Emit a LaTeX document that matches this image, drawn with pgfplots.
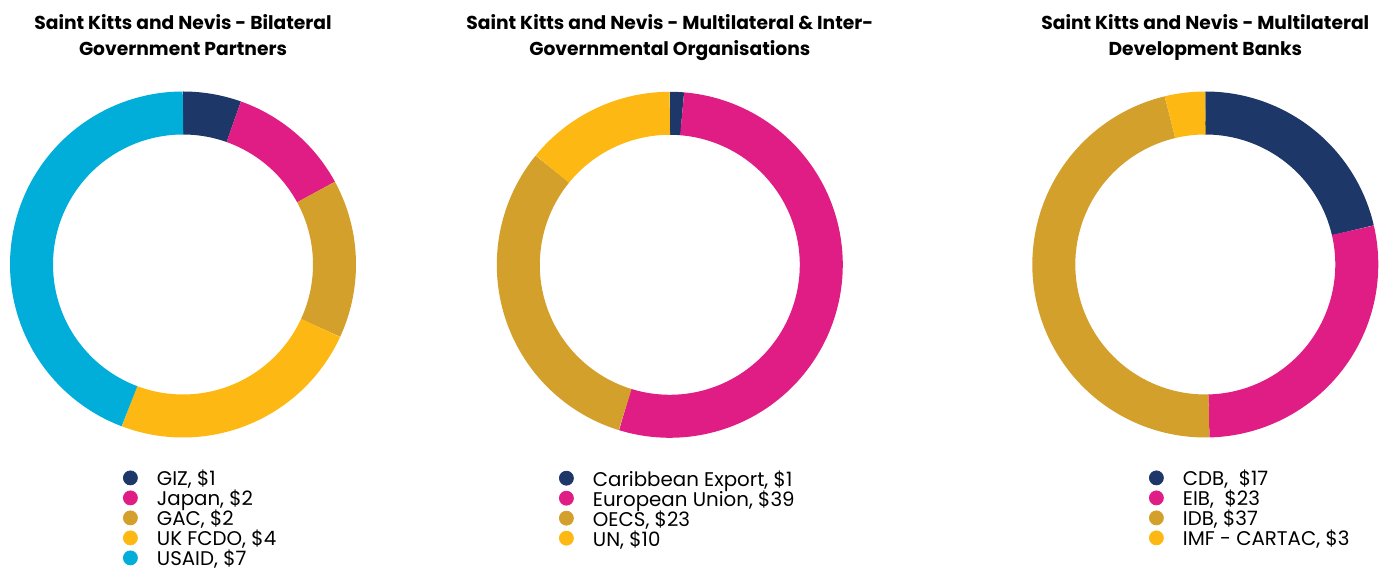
\documentclass[border=0pt]{standalone}
\usepackage{pgfplots}
\pgfplotsset{compat=1.18}
\usepackage{pgfplotstable}
\usepackage{fontspec}
\setmainfont{Poppins}
\definecolor{cNavy}{HTML}{1D3768}
\definecolor{cMag}{HTML}{E01D84}
\definecolor{cGold}{HTML}{D4A02C}
\definecolor{cYel}{HTML}{FDB813}
\definecolor{cCyan}{HTML}{00AED9}

% slice values (read off the rings)
\pgfplotstableread{
value color
0.87 cNavy
1.86 cMag
2.37 cGold
3.82 cYel
7.08 cCyan
}\tblBilat
\pgfplotstableread{
value color
0.95 cNavy
39.0 cMag
22.7 cGold
10.3 cYel
}\tblMulti
\pgfplotstableread{
value color
17.1 cNavy
22.6 cMag
37.3 cGold
3.0 cYel
}\tblBanks

% ring: each slice is a thick arc (butt caps give radial cuts)
\newcommand\donut[1]{%
  \pgfplotstablegetrowsof{#1}%
  \pgfmathtruncatemacro\lastrow{\pgfplotsretval-1}%
  \def\dtot{0}%
  \pgfplotsforeachungrouped \r in {0,...,\lastrow}{%
    \pgfplotstablegetelem{\r}{value}\of{#1}%
    \pgfmathsetmacro\dtot{\dtot+\pgfplotsretval}%
  }%
  \def\dcum{0}%
  \pgfplotsforeachungrouped \r in {0,...,\lastrow}{%
    \pgfplotstablegetelem{\r}{value}\of{#1}\let\dv\pgfplotsretval
    \pgfplotstablegetelem{\r}{color}\of{#1}\let\dc\pgfplotsretval
    \pgfmathsetmacro\aone{90-360*(\dcum/\dtot)}%
    \pgfmathsetmacro\dcum{\dcum+\dv}%
    \pgfmathsetmacro\atwo{90-360*(\dcum/\dtot)}%
    \edef\cmd{\noexpand\addplot[draw=\dc, line width=21.5pt, line cap=butt, line join=round, domain=\atwo:\aone, samples=120, forget plot] ({0.8757*cos(x)},{0.8757*sin(x)});}%
    \cmd
  }%
}

\newcommand\lentry[1]{\addlegendimage{legend image code/.code={\fill[#1] (3.5pt,1pt) circle (3.5pt); \path[draw=none,fill=none] (0pt,1pt) -- (16.75pt,1pt);}}}

\pgfplotsset{donut/.style={
  width=173pt, height=173pt, scale only axis,
  xmin=-1, xmax=1, ymin=-1, ymax=1,
  hide axis, clip=false, anchor=center,
  title style={align=center, font=\bfseries\fontsize{9.35}{13}\selectfont,
    at={(0.5,1)}, anchor=north, inner sep=0pt, yshift=32.75pt},
  legend style={draw=none, fill=none, inner sep=0pt, outer sep=0pt,
    anchor=north west, row sep=-6pt, column sep=0pt,
    font=\fontsize{9.9}{10}\selectfont,
    nodes={inner sep=0pt, text height=11pt, text depth=5pt}},
  legend cell align=left,
}}

\begin{document}
\begin{tikzpicture}
\path[use as bounding box] (0,0) rectangle (694.5pt,285.5pt);

\begin{axis}[donut, at={(91.5pt,153.25pt)},
  title={Saint Kitts and Nevis - Bilateral\\Government Partners},
  legend style={at={(0.3266,-0.0763)}}]
\donut{\tblBilat}
\lentry{cNavy}\addlegendentry{GIZ, \$1}
\lentry{cMag}\addlegendentry{Japan, \$2}
\lentry{cGold}\addlegendentry{GAC, \$2}
\lentry{cYel}\addlegendentry{UK FCDO, \$4}
\lentry{cCyan}\addlegendentry{USAID, \$7}
\end{axis}

\begin{axis}[donut, at={(334.9pt,153.1pt)},
  title={Saint Kitts and Nevis - Multilateral \& Inter-\\Governmental Organisations},
  legend style={at={(0.1798,-0.0763)}}]
\donut{\tblMulti}
\lentry{cNavy}\addlegendentry{Caribbean Export, \$1}
\lentry{cMag}\addlegendentry{European Union, \$39}
\lentry{cGold}\addlegendentry{OECS, \$23}
\lentry{cYel}\addlegendentry{UN, \$10}
\end{axis}

\begin{axis}[donut, at={(602.65pt,153.25pt)},
  title={Saint Kitts and Nevis - Multilateral\\Development Banks},
  legend style={at={(0.3373,-0.0763)}}]
\donut{\tblBanks}
\lentry{cNavy}\addlegendentry{CDB,\ \ \$17}
\lentry{cMag}\addlegendentry{EIB,\ \ \$23}
\lentry{cGold}\addlegendentry{IDB, \$37}
\lentry{cYel}\addlegendentry{IMF - CARTAC, \$3}
\end{axis}
\end{tikzpicture}
\end{document}
